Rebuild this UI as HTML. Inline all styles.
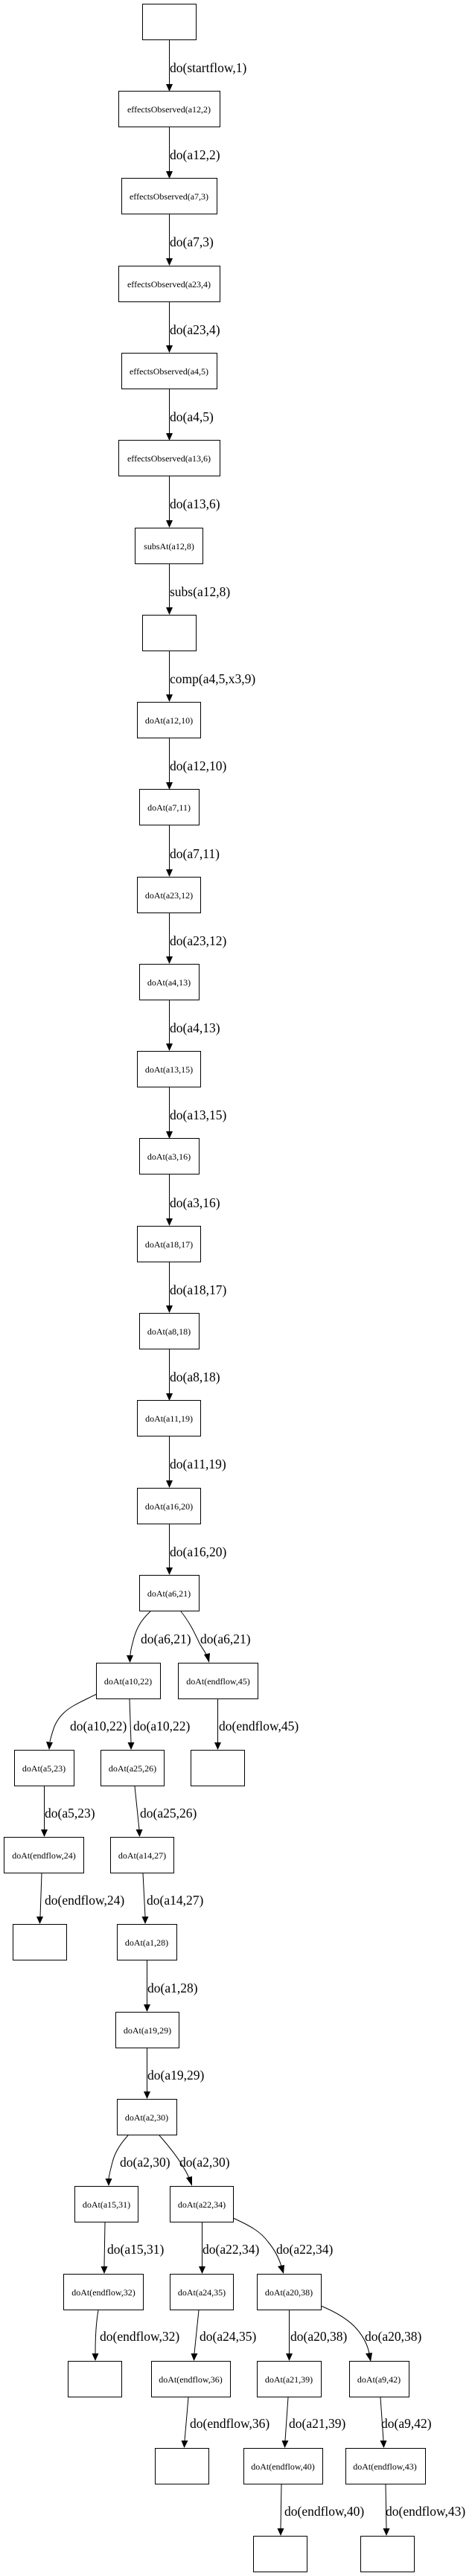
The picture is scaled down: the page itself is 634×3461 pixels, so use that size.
<!DOCTYPE html>
<html><head><meta charset="utf-8"><style>
html,body{margin:0;padding:0;background:#fff}
svg{display:block}
.n{fill:#fff;stroke:#000;stroke-width:1}
.t{font-family:"Liberation Serif",serif;font-size:12px;text-anchor:middle}
.l{font-family:"Liberation Serif",serif;font-size:17.5px}
.e{fill:none;stroke:#000;stroke-width:1}
.a{fill:#000}
</style></head><body>
<svg width="634" height="3461" viewBox="0 0 634 3461" xmlns="http://www.w3.org/2000/svg">
<rect class="n" x="191.5" y="5.5" width="72" height="48"/>
<rect class="n" x="159.5" y="122.5" width="136" height="48"/><text class="t" x="227" y="151">effectsObserved(a12,2)</text>
<rect class="n" x="163.5" y="239.5" width="128" height="48"/><text class="t" x="227" y="268">effectsObserved(a7,3)</text>
<rect class="n" x="159.5" y="357.5" width="136" height="48"/><text class="t" x="227" y="386">effectsObserved(a23,4)</text>
<rect class="n" x="163.5" y="474.5" width="128" height="48"/><text class="t" x="227" y="503">effectsObserved(a4,5)</text>
<rect class="n" x="159.5" y="591.5" width="136" height="48"/><text class="t" x="227" y="620">effectsObserved(a13,6)</text>
<rect class="n" x="181.5" y="709.5" width="91" height="48"/><text class="t" x="227" y="738">subsAt(a12,8)</text>
<rect class="n" x="191.5" y="826.5" width="72" height="48"/>
<rect class="n" x="184.5" y="943.5" width="85" height="48"/><text class="t" x="227" y="972">doAt(a12,10)</text>
<rect class="n" x="187.5" y="1060.5" width="80" height="48"/><text class="t" x="227" y="1089">doAt(a7,11)</text>
<rect class="n" x="184.5" y="1178.5" width="85" height="48"/><text class="t" x="227" y="1207">doAt(a23,12)</text>
<rect class="n" x="187.5" y="1295.5" width="80" height="48"/><text class="t" x="227" y="1324">doAt(a4,13)</text>
<rect class="n" x="184.5" y="1412.5" width="85" height="48"/><text class="t" x="227" y="1441">doAt(a13,15)</text>
<rect class="n" x="187.5" y="1529.5" width="80" height="48"/><text class="t" x="227" y="1558">doAt(a3,16)</text>
<rect class="n" x="184.5" y="1647.5" width="85" height="48"/><text class="t" x="227" y="1676">doAt(a18,17)</text>
<rect class="n" x="187.5" y="1764.5" width="80" height="48"/><text class="t" x="227" y="1793">doAt(a8,18)</text>
<rect class="n" x="184.5" y="1881.5" width="85" height="48"/><text class="t" x="227" y="1910">doAt(a11,19)</text>
<rect class="n" x="184.5" y="1999.5" width="85" height="48"/><text class="t" x="227" y="2028">doAt(a16,20)</text>
<rect class="n" x="187.5" y="2116.5" width="80" height="48"/><text class="t" x="227" y="2145">doAt(a6,21)</text>
<rect class="n" x="129.5" y="2234.5" width="86" height="48"/><text class="t" x="172" y="2263">doAt(a10,22)</text>
<rect class="n" x="239.5" y="2234.5" width="107" height="48"/><text class="t" x="293" y="2263">doAt(endflow,45)</text>
<rect class="n" x="19.5" y="2351.5" width="80" height="48"/><text class="t" x="59" y="2380">doAt(a5,23)</text>
<rect class="n" x="135.5" y="2351.5" width="85" height="48"/><text class="t" x="178" y="2380">doAt(a25,26)</text>
<rect class="n" x="256.5" y="2351.5" width="72" height="48"/>
<rect class="n" x="5.5" y="2468.5" width="107" height="48"/><text class="t" x="59" y="2497">doAt(endflow,24)</text>
<rect class="n" x="148.5" y="2468.5" width="85" height="48"/><text class="t" x="191" y="2497">doAt(a14,27)</text>
<rect class="n" x="17.5" y="2585.5" width="72" height="48"/>
<rect class="n" x="157.5" y="2585.5" width="80" height="48"/><text class="t" x="197" y="2614">doAt(a1,28)</text>
<rect class="n" x="155.5" y="2703.5" width="85" height="48"/><text class="t" x="198" y="2732">doAt(a19,29)</text>
<rect class="n" x="157.5" y="2820.5" width="80" height="48"/><text class="t" x="197" y="2849">doAt(a2,30)</text>
<rect class="n" x="100.5" y="2937.5" width="85" height="48"/><text class="t" x="143" y="2966">doAt(a15,31)</text>
<rect class="n" x="228.5" y="2937.5" width="85" height="48"/><text class="t" x="271" y="2966">doAt(a22,34)</text>
<rect class="n" x="85.5" y="3055.5" width="107" height="48"/><text class="t" x="139" y="3084">doAt(endflow,32)</text>
<rect class="n" x="228.5" y="3055.5" width="85" height="48"/><text class="t" x="271" y="3084">doAt(a24,35)</text>
<rect class="n" x="345.5" y="3055.5" width="86" height="48"/><text class="t" x="388" y="3084">doAt(a20,38)</text>
<rect class="n" x="91.5" y="3172.5" width="72" height="48"/>
<rect class="n" x="203.5" y="3172.5" width="106" height="48"/><text class="t" x="256" y="3201">doAt(endflow,36)</text>
<rect class="n" x="345.5" y="3172.5" width="86" height="48"/><text class="t" x="388" y="3201">doAt(a21,39)</text>
<rect class="n" x="469.5" y="3172.5" width="80" height="48"/><text class="t" x="509" y="3201">doAt(a9,42)</text>
<rect class="n" x="208.5" y="3289.5" width="72" height="48"/>
<rect class="n" x="327.5" y="3289.5" width="106" height="48"/><text class="t" x="380" y="3318">doAt(endflow,40)</text>
<rect class="n" x="464.5" y="3289.5" width="107" height="48"/><text class="t" x="517" y="3318">doAt(endflow,43)</text>
<rect class="n" x="340.5" y="3407.5" width="72" height="48"/>
<rect class="n" x="484.5" y="3407.5" width="72" height="48"/>

<g>
<path class="e" d="M227.5 54V113 M227.5 171V230 M227.5 288V347 M227.5 406V464 M227.5 523V582 M227.5 640V699 M227.5 758V816 M227.5 875V933 M227.5 992V1051 M227.5 1109V1168 M227.5 1227V1285 M227.5 1344V1402 M227.5 1461V1520 M227.5 1578V1637 M227.5 1696V1754 M227.5 1813V1872 M227.5 1930V1989 M227.5 2048V2106"/>
<path class="a" d="M223 113h9l-4.5 10z M223 230h9l-4.5 10z M223 347h9l-4.5 10z M223 464h9l-4.5 10z M223 582h9l-4.5 10z M223 699h9l-4.5 10z M223 816h9l-4.5 10z M223 933h9l-4.5 10z M223 1051h9l-4.5 10z M223 1168h9l-4.5 10z M223 1285h9l-4.5 10z M223 1402h9l-4.5 10z M223 1520h9l-4.5 10z M223 1637h9l-4.5 10z M223 1754h9l-4.5 10z M223 1872h9l-4.5 10z M223 1989h9l-4.5 10z M223 2106h9l-4.5 10z"/>
</g>
<text class="l" x="228" y="97">do(startflow,1)</text>
<text class="l" x="228" y="214">do(a12,2)</text>
<text class="l" x="228" y="331">do(a7,3)</text>
<text class="l" x="228" y="449">do(a23,4)</text>
<text class="l" x="228" y="566">do(a4,5)</text>
<text class="l" x="228" y="683">do(a13,6)</text>
<text class="l" x="228" y="801">subs(a12,8)</text>
<text class="l" x="228" y="918">comp(a4,5,x3,9)</text>
<text class="l" x="228" y="1035">do(a12,10)</text>
<text class="l" x="228" y="1153">do(a7,11)</text>
<text class="l" x="228" y="1270">do(a23,12)</text>
<text class="l" x="228" y="1387">do(a4,13)</text>
<text class="l" x="228" y="1504">do(a13,15)</text>
<text class="l" x="228" y="1622">do(a3,16)</text>
<text class="l" x="228" y="1739">do(a18,17)</text>
<text class="l" x="228" y="1856">do(a8,18)</text>
<text class="l" x="228" y="1973">do(a11,19)</text>
<text class="l" x="228" y="2091">do(a16,20)</text>

<g>
<path class="e" d="M202 2165 C188 2178 182 2190 178 2208 C176 2215 175 2220 175 2225"/>
<path class="a" d="M170 2224h9l-4.5 10z"/>
<text class="l" x="189" y="2208">do(a6,21)</text>
<path class="e" d="M243 2165 C255 2180 262 2195 268 2208 C272 2215 276 2220 278 2225"/>
<path class="a" d="M274 2223l8 -2l-1 13z"/>
<text class="l" x="269" y="2208">do(a6,21)</text>

<path class="e" d="M130 2276 C110 2286 95 2292 85 2302 C75 2312 72 2320 67 2340"/>
<path class="a" d="M62 2340l9 1l-5 10z"/>
<text class="l" x="94" y="2325">do(a10,22)</text>
<path class="e" d="M174 2283 L176 2341"/>
<path class="a" d="M171.5 2341h9l-4.5 10z"/>
<text class="l" x="179" y="2325">do(a10,22)</text>
<path class="e" d="M292.5 2283V2341"/>
<path class="a" d="M288 2341h9l-4.5 10z"/>
<text class="l" x="294" y="2325">do(endflow,45)</text>

<path class="e" d="M59.5 2400V2458"/>
<path class="a" d="M55 2458h9l-4.5 10z"/>
<text class="l" x="60" y="2442">do(a5,23)</text>
<path class="e" d="M181 2400 L187 2458"/>
<path class="a" d="M182.5 2458h9l-4 10z"/>
<text class="l" x="188" y="2442">do(a25,26)</text>

<path class="e" d="M56 2517 L54 2575"/>
<path class="a" d="M49 2575h9l-4.5 10z"/>
<text class="l" x="60" y="2559">do(endflow,24)</text>
<path class="e" d="M192 2517 L195 2575"/>
<path class="a" d="M190.5 2575h9l-4.5 10z"/>
<text class="l" x="197" y="2559">do(a14,27)</text>

<path class="e" d="M197.5 2634V2693"/>
<path class="a" d="M193 2693h9l-4.5 10z"/>
<text class="l" x="198" y="2677">do(a1,28)</text>
<path class="e" d="M197.5 2752V2810"/>
<path class="a" d="M193 2810h9l-4.5 10z"/>
<text class="l" x="198" y="2794">do(a19,29)</text>

<path class="e" d="M172 2869 C160 2882 154 2893 151 2905 C149 2913 147 2920 146 2927"/>
<path class="a" d="M141.5 2927h9l-4.5 10z"/>
<text class="l" x="161" y="2911">do(a2,30)</text>
<path class="e" d="M214 2869 C228 2885 238 2898 244 2908 C248 2915 252 2920 254 2927"/>
<path class="a" d="M250 2926l8 -2l0 13z"/>
<text class="l" x="241" y="2911">do(a2,30)</text>

<path class="e" d="M141 2986 L140 3045"/>
<path class="a" d="M135.5 3045h9l-4.5 10z"/>
<text class="l" x="144" y="3028">do(a15,31)</text>
<path class="e" d="M271.5 2986V3045"/>
<path class="a" d="M267 3045h9l-4.5 10z"/>
<text class="l" x="272" y="3028">do(a22,34)</text>
<path class="e" d="M313 2980 C335 2990 350 2998 360 3012 C370 3024 375 3035 378 3045"/>
<path class="a" d="M373 3045l9 -2l-1 12z"/>
<text class="l" x="371" y="3028">do(a22,34)</text>

<path class="e" d="M132 3104 C130 3115 128 3130 128 3162"/>
<path class="a" d="M123.5 3162h9l-4.5 10z"/>
<text class="l" x="134" y="3145">do(endflow,32)</text>
<path class="e" d="M267 3104 L261 3162"/>
<path class="a" d="M256.5 3162h9l-5 10z"/>
<text class="l" x="268" y="3145">do(a24,35)</text>
<path class="e" d="M388.5 3104V3162"/>
<path class="a" d="M384 3162h9l-4.5 10z"/>
<text class="l" x="390" y="3145">do(a20,38)</text>
<path class="e" d="M431 3098 C455 3108 470 3118 480 3130 C490 3142 494 3152 496 3162"/>
<path class="a" d="M491 3162l9 -1l-2 12z"/>
<text class="l" x="490" y="3145">do(a20,38)</text>

<path class="e" d="M253 3221 L248 3279"/>
<path class="a" d="M243.5 3279h9l-5 10z"/>
<text class="l" x="255" y="3262">do(endflow,36)</text>
<path class="e" d="M387 3221 L383 3279"/>
<path class="a" d="M378.5 3279h9l-5 10z"/>
<text class="l" x="388" y="3262">do(a21,39)</text>
<path class="e" d="M511 3221 L515 3279"/>
<path class="a" d="M510.5 3279h9l-4 10z"/>
<text class="l" x="512" y="3262">do(a9,42)</text>

<path class="e" d="M378 3338 L377 3397"/>
<path class="a" d="M372.5 3397h9l-4.5 10z"/>
<text class="l" x="382" y="3380">do(endflow,40)</text>
<path class="e" d="M518 3338 L519 3397"/>
<path class="a" d="M514.5 3397h9l-4.5 10z"/>
<text class="l" x="518" y="3380">do(endflow,43)</text>
</g>
</svg>
</body></html>
